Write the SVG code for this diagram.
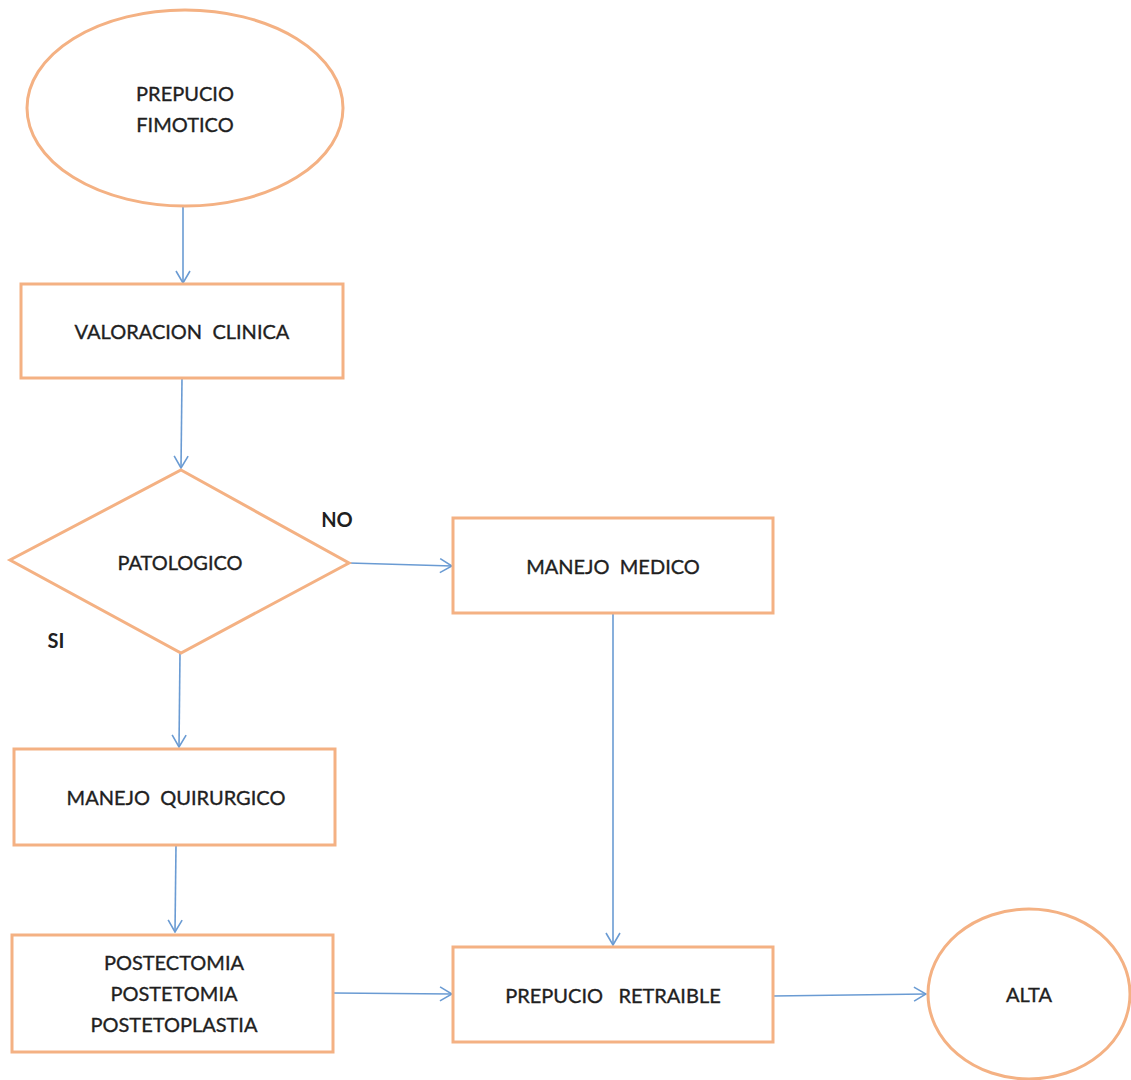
<svg xmlns="http://www.w3.org/2000/svg" width="1131" height="1080" viewBox="0 0 1131 1080">
  <style>
    .shape { fill: #ffffff; stroke: #f4b183; stroke-width: 3; }
    .label { font-family: Lato, "Open Sans", "Liberation Sans", sans-serif; font-size: 20px; fill: #1f1f1f; stroke: #1f1f1f; stroke-width: 0.35; text-anchor: middle; dominant-baseline: central; }
    .tag { font-family: Lato, "Open Sans", "Liberation Sans", sans-serif; font-size: 20px; font-weight: bold; fill: #1f1f1f; text-anchor: middle; dominant-baseline: central; }
    .flow { fill: none; stroke: #6a9bd3; stroke-width: 1.6; marker-end: url(#head); }
  </style>
  <defs>
    <marker id="head" viewBox="0 0 14 16" refX="13" refY="8" markerWidth="14" markerHeight="16" markerUnits="userSpaceOnUse" orient="auto">
      <path d="M1,1 L13,8 L1,15" fill="none" stroke="#6a9bd3" stroke-width="1.6"/>
    </marker>
  </defs>
  <rect width="1131" height="1080" fill="#ffffff"/>

  <g id="connectors">
    <path class="flow" d="M183,207 L183,283"/>
    <path class="flow" d="M182,378 L181,468"/>
    <path class="flow" d="M349,563 L452,566"/>
    <path class="flow" d="M613,613 L613,945"/>
    <path class="flow" d="M180,653 L179,747"/>
    <path class="flow" d="M176,845 L175,932"/>
    <path class="flow" d="M333,993 L452,994"/>
    <path class="flow" d="M773,996 L926,994"/>
  </g>

  <g id="prepucio-fimotico">
    <ellipse class="shape" cx="185" cy="108" rx="158" ry="98"/>
    <text class="label" x="185" y="93">PREPUCIO</text>
    <text class="label" x="185" y="124">FIMOTICO</text>
  </g>

  <g id="valoracion-clinica">
    <rect class="shape" x="21" y="284" width="322" height="94"/>
    <text class="label" x="182" y="331" xml:space="preserve">VALORACION  CLINICA</text>
  </g>

  <g id="patologico">
    <polygon class="shape" points="181,470 349,563 181,653 10,560"/>
    <text class="label" x="180" y="562">PATOLOGICO</text>
    <text class="tag" x="337" y="519">NO</text>
    <text class="tag" x="56" y="640">SI</text>
  </g>

  <g id="manejo-medico">
    <rect class="shape" x="453" y="518" width="320" height="95"/>
    <text class="label" x="613" y="566" xml:space="preserve">MANEJO  MEDICO</text>
  </g>

  <g id="manejo-quirurgico">
    <rect class="shape" x="14" y="749" width="321" height="96"/>
    <text class="label" x="176" y="797" xml:space="preserve">MANEJO  QUIRURGICO</text>
  </g>

  <g id="postectomia">
    <rect class="shape" x="12" y="935" width="321" height="117"/>
    <text class="label" x="174" y="962">POSTECTOMIA</text>
    <text class="label" x="174" y="993">POSTETOMIA</text>
    <text class="label" x="174" y="1024">POSTETOPLASTIA</text>
  </g>

  <g id="prepucio-retraible">
    <rect class="shape" x="453" y="947" width="320" height="95"/>
    <text class="label" x="613" y="995" xml:space="preserve">PREPUCIO   RETRAIBLE</text>
  </g>

  <g id="alta">
    <ellipse class="shape" cx="1029" cy="994" rx="101" ry="85"/>
    <text class="label" x="1029" y="994">ALTA</text>
  </g>
</svg>
